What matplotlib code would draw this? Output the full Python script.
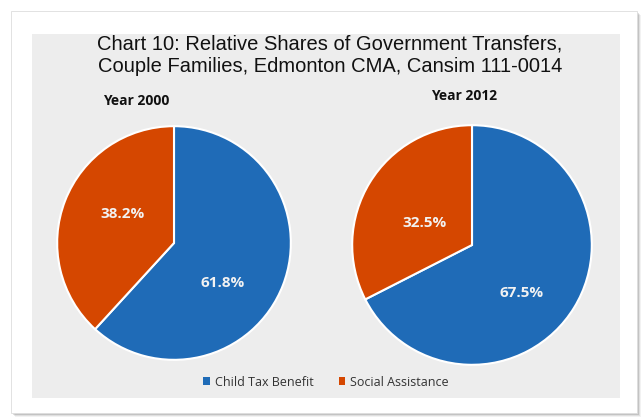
import matplotlib
matplotlib.use("Agg")
import matplotlib.pyplot as plt
from matplotlib.patches import Rectangle

title = "Chart 10: Relative Shares of Government Transfers,\nCouple Families, Edmonton CMA, Cansim 111-0014"
categories = ["Child Tax Benefit", "Social Assistance"]
years = ["Year 2000", "Year 2012"]
shares_2000 = [61.8, 38.2]
shares_2012 = [67.5, 32.5]
colors = ["#1F6BB7", "#D54700"]

W, H = 642, 419
fig = plt.figure(figsize=(W / 100, H / 100), dpi=100)
fig.patch.set_facecolor("white")

def fr(x, y, w, h):
    return (x / W, 1 - (y + h) / H, w / W, h / H)

# shadowed card
for i, a in enumerate([0.05, 0.08, 0.12]):
    off = 3 - i
    fig.patches.append(Rectangle(fr(12 + off, 12 + off, 626, 402)[:2], 626 / W, 402 / H,
                                 transform=fig.transFigure, facecolor="#000000", alpha=a,
                                 edgecolor="none", zorder=0))
fig.patches.append(Rectangle(fr(11, 11, 626, 402)[:2], 626 / W, 402 / H, transform=fig.transFigure,
                             facecolor="white", edgecolor="#DDDDDD", linewidth=0.6, zorder=1))
fig.patches.append(Rectangle(fr(32, 34, 588, 364)[:2], 588 / W, 364 / H, transform=fig.transFigure,
                             facecolor="#EDEDED", edgecolor="none", zorder=2))

fig.text(330 / W, 1 - 55 / H, title, ha="center", va="center", fontsize=14.5,
         family="Liberation Sans", color="#111111", linespacing=1.25, zorder=5)

# (center x, center y, radius, year-label x, year-label y) in pixels
layouts = [(174, 243, 118, 136, 101), (472, 245, 121, 464, 96)]
# label positions as fractions of the radius
label_pos = [[(0.415, -0.339), (-0.44, 0.246)], [(0.413, -0.397), (-0.397, 0.182)]]
for data, yr, (cx, cy, r, tx, ty), lp in zip([shares_2000, shares_2012], years, layouts, label_pos):
    ax = fig.add_axes(fr(cx - r, cy - r, 2 * r, 2 * r))
    ax.set_zorder(5)
    wedges, texts, autotexts = ax.pie(
        data, colors=colors, startangle=90, counterclock=False,
        autopct="%.1f%%", pctdistance=0.55,
        wedgeprops=dict(edgecolor="white", linewidth=1.5),
        textprops=dict(color="white", fontsize=11, fontweight="bold", family="Open Sans"))
    for t, p in zip(autotexts, lp):
        t.set_position(p)
        t.set_color("#F2F2F2")
    ax.set_xlim(-1.01, 1.01)
    ax.set_ylim(-1.01, 1.01)
    ax.set_aspect("equal")
    ax.axis("off")
    fig.text(tx / W, 1 - ty / H, yr, ha="center", va="center", fontsize=10,
             fontweight="bold", family="Open Sans", color="#111111", zorder=6)

# legend
handles = [Rectangle((0, 0), 1, 1, facecolor=c, edgecolor="none") for c in colors]
leg = fig.legend(handles, categories, loc="center", bbox_to_anchor=(326 / W, 1 - 382 / H),
                 ncol=2, frameon=False, handlelength=0.55, handleheight=0.55,
                 handletextpad=0.4, columnspacing=2.0, prop=dict(family="Open Sans", size=9))
for t in leg.get_texts():
    t.set_color("#333333")
leg.set_zorder(6)

fig.savefig("out.png", dpi=100)
